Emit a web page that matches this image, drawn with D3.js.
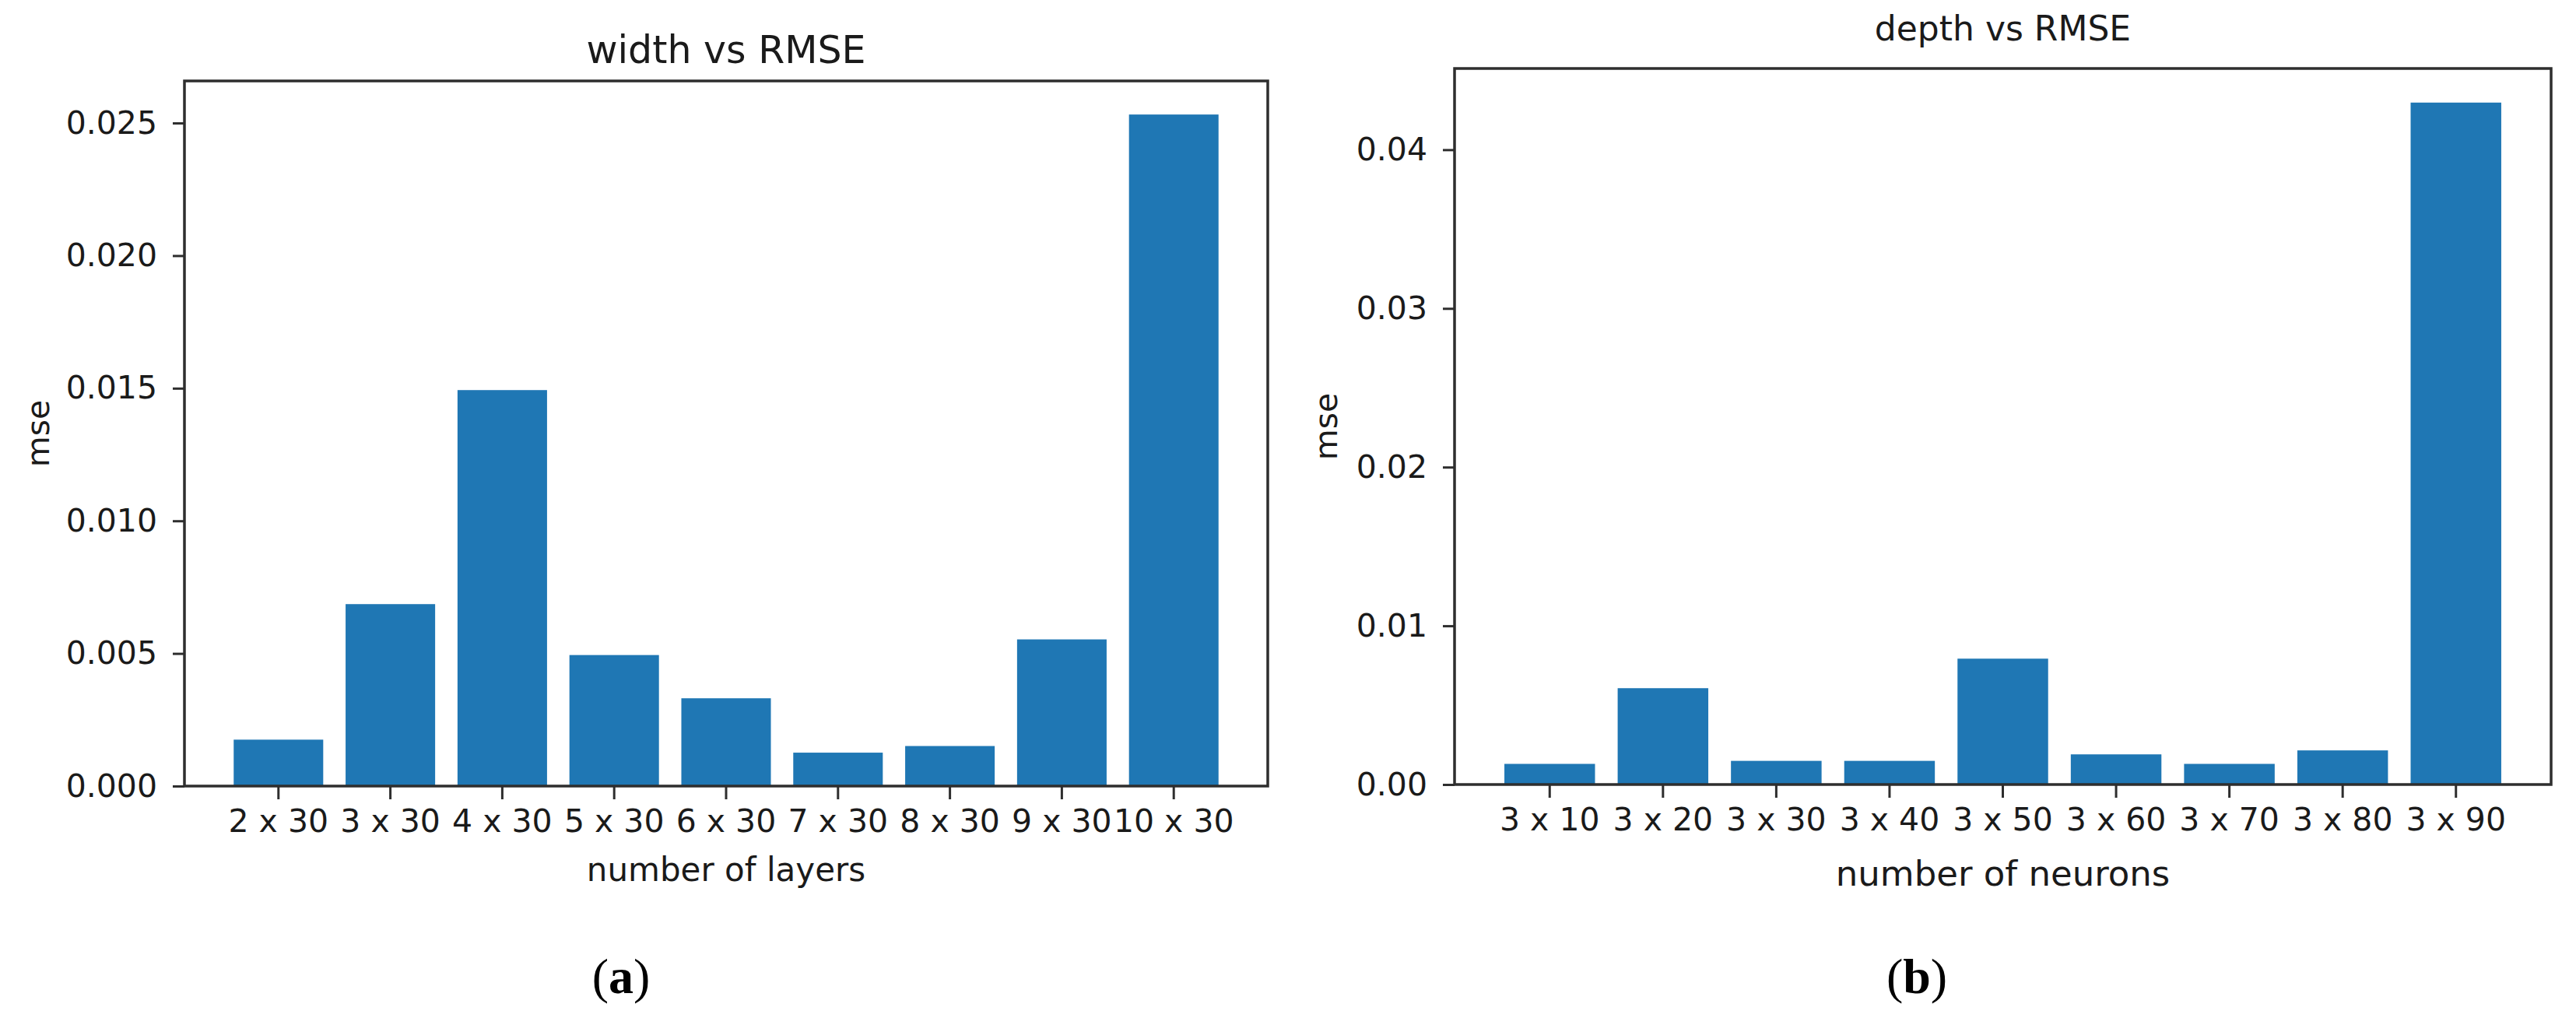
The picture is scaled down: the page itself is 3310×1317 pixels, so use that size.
<!DOCTYPE html>
<html>
<head>
<meta charset="utf-8">
<script src="https://cdn.jsdelivr.net/npm/d3@7"></script>
<style>
  html, body { margin: 0; padding: 0; background: #fff; }
  svg { display: block; }
  text { font-family: "DejaVu Sans", sans-serif; fill: #1a1a1a; }
</style>
</head>
<body>
<svg id="chart" width="3310" height="1317"></svg>
<script>
// ---- data ----
const layerCategories = ["2 x 30", "3 x 30", "4 x 30", "5 x 30", "6 x 30", "7 x 30", "8 x 30", "9 x 30", "10 x 30"];
const layerRmse = [0.00175, 0.00686, 0.01493, 0.00494, 0.00331, 0.00126, 0.00151, 0.00553, 0.02532];
const layerYTicks = [0, 0.005, 0.010, 0.015, 0.020, 0.025];

const neuronCategories = ["3 x 10", "3 x 20", "3 x 30", "3 x 40", "3 x 50", "3 x 60", "3 x 70", "3 x 80", "3 x 90"];
const neuronRmse = [0.0013, 0.00607, 0.00149, 0.00149, 0.00793, 0.0019, 0.0013, 0.00215, 0.04297];
const neuronYTicks = [0, 0.01, 0.02, 0.03, 0.04];

const titles = ["width vs RMSE", "depth vs RMSE"];
const xLabels = ["number of layers", "number of neurons"];
const yLabel = "mse";
const captions = ["a", "b"];

// ---- layout ----
const panels = [
  { cats: layerCategories, vals: layerRmse, ticks: layerYTicks, fmt: d3.format(".3f"),
    title: titles[0], xlabel: xLabels[0], caption: captions[0],
    left: 237, right: 1629, top: 104, bottom: 1010,
    titleY: 81, titleSize: 49, tickSize: 41, xlabelY: 1132, xlabelSize: 42,
    ylabelX: 63, captionX: 798 },
  { cats: neuronCategories, vals: neuronRmse, ticks: neuronYTicks, fmt: d3.format(".2f"),
    title: titles[1], xlabel: xLabels[1], caption: captions[1],
    left: 1869, right: 3278, top: 88, bottom: 1008,
    titleY: 52, titleSize: 44, tickSize: 41, xlabelY: 1138, xlabelSize: 45,
    ylabelX: 1718, captionX: 2463 }
];

const svg = d3.select("#chart");
const spineColor = "#2e2e2e";
const barColor = "#1f77b4";

panels.forEach(p => {
  const g = svg.append("g");
  const x = d3.scaleBand().domain(p.cats).range([p.left, p.right])
    .paddingInner(0.2).paddingOuter(0.44);
  const yMax = d3.max(p.vals) * 1.05;
  const y = d3.scaleLinear().domain([0, yMax]).range([p.bottom, p.top]);

  // bars
  g.selectAll("rect.bar").data(p.vals).join("rect")
    .attr("class", "bar")
    .attr("x", (d, i) => x(p.cats[i]))
    .attr("width", x.bandwidth())
    .attr("y", d => y(d))
    .attr("height", d => y(0) - y(d))
    .attr("fill", barColor);

  // x axis
  const xAxis = g.append("g").attr("transform", `translate(0,${p.bottom})`)
    .call(d3.axisBottom(x).tickSizeOuter(0).tickSizeInner(17).tickPadding(13));
  xAxis.select(".domain").remove();
  xAxis.selectAll(".tick line").attr("stroke", spineColor).attr("stroke-width", 3);
  xAxis.selectAll(".tick text").attr("font-size", p.tickSize)
    .attr("font-family", "DejaVu Sans").attr("fill", "#1a1a1a");

  // y axis
  const yAxis = g.append("g").attr("transform", `translate(${p.left},0)`)
    .call(d3.axisLeft(y).tickValues(p.ticks).tickFormat(p.fmt)
      .tickSizeOuter(0).tickSizeInner(15).tickPadding(20));
  yAxis.select(".domain").remove();
  yAxis.selectAll(".tick line").attr("stroke", spineColor).attr("stroke-width", 3);
  yAxis.selectAll(".tick text").attr("font-size", p.tickSize)
    .attr("font-family", "DejaVu Sans").attr("fill", "#1a1a1a");

  // spines (frame)
  g.append("rect")
    .attr("x", p.left).attr("y", p.top)
    .attr("width", p.right - p.left).attr("height", p.bottom - p.top)
    .attr("fill", "none").attr("stroke", spineColor).attr("stroke-width", 3.5);

  // title
  g.append("text").attr("x", (p.left + p.right) / 2).attr("y", p.titleY)
    .attr("text-anchor", "middle").attr("font-size", p.titleSize).text(p.title);

  // x label
  g.append("text").attr("x", (p.left + p.right) / 2).attr("y", p.xlabelY)
    .attr("text-anchor", "middle").attr("font-size", p.xlabelSize).text(p.xlabel);

  // y label
  g.append("text")
    .attr("transform", `translate(${p.ylabelX},${(p.top + p.bottom) / 2}) rotate(-90)`)
    .attr("text-anchor", "middle").attr("font-size", 41).text(yLabel);

  // caption
  const cap = g.append("text").attr("x", p.captionX).attr("y", 1276)
    .attr("text-anchor", "middle").attr("font-size", 64)
    .style("font-family", "'Liberation Serif', 'DejaVu Serif', serif")
    .style("fill", "#000");
  cap.append("tspan").text("(");
  cap.append("tspan").attr("font-weight", "bold").text(p.caption);
  cap.append("tspan").text(")");
});
</script>
</body>
</html>
